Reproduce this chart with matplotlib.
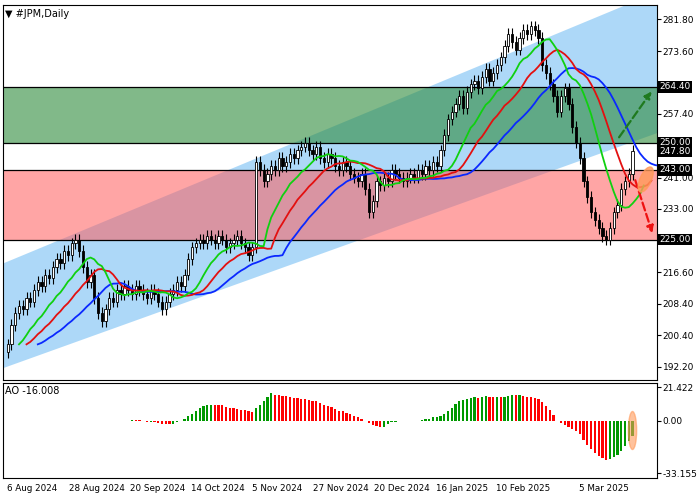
import numpy as np
import matplotlib.pyplot as plt
from matplotlib.patches import Ellipse

# daily closes
closes = [
    198, 203, 206, 208, 207, 210, 209,
    212, 214, 213, 216, 215, 218, 220, 219, 222, 221, 224, 225,
    222, 218, 214, 216, 210, 206, 204,
    207, 210, 209, 212, 211, 213, 212, 211, 213, 212, 211, 210, 212, 211, 209,
    207, 209, 211, 212, 214, 213,
    216, 220, 223, 224, 225, 224, 226, 225, 224, 226, 225, 223, 224, 225, 226, 224, 223, 221, 223,
    245, 243, 240, 242, 244, 243, 246, 244, 245, 247,
    246, 248, 249, 250, 248, 247, 249, 246, 245, 247, 246, 244, 243, 245, 244, 242, 241,
    240, 242, 238, 232, 235, 240, 239, 241, 240, 243, 242, 241, 240,
    241, 242, 241, 243, 242, 244, 243, 245, 244, 248, 252, 256,
    258, 260, 262, 259, 263, 265, 266, 264, 267, 269, 266, 268, 270,
    272, 275, 278, 276, 274, 277, 279, 278, 280, 279, 277, 270, 268,
    265, 262, 258, 262, 264, 260, 254, 250, 246,
    240, 236, 232, 230, 228, 226, 225, 228, 232, 234, 238,
    240, 242, 247.8,
]
wick = 1.5

levels = [264.40, 250.00, 243.00, 225.00]
price_ticks = [281.80, 273.60, 257.40, 241.00, 233.00, 216.60, 208.40, 200.40, 192.20]
date_labels = ["6 Aug 2024", "28 Aug 2024", "20 Sep 2024", "14 Oct 2024", "5 Nov 2024",
               "27 Nov 2024", "20 Dec 2024", "16 Jan 2025", "10 Feb 2025", "5 Mar 2025"]
date_pos = [-0.2, 16.3, 32.4, 48.7, 65.0, 81.0, 97.4, 113.7, 129.7, 151.8]

# channel corners (bar index, price)
chan_x = [-1.3, 175]
chan_lo = [192.0, 253.5]
chan_hi = [219.0, 290.0]


def smma(vals, n):
    out = np.empty(len(vals))
    out[0] = vals[0]
    for i in range(1, len(vals)):
        out[i] = (out[i - 1] * (n - 1) + vals[i]) / n
    return out


c = np.array(closes, dtype=float)
o = np.r_[c[0] - 2, c[:-1]]
hi = np.maximum(o, c) + wick
lo = np.minimum(o, c) - wick
idx = np.arange(len(c))

fig = plt.figure(figsize=(7, 5), dpi=100)
ax = fig.add_axes([0.004, 0.24, 0.934, 0.75])
ax2 = fig.add_axes([0.004, 0.044, 0.934, 0.19])
for a in (ax, ax2):
    a.set_xlim(-1.3, 172.4)
    a.yaxis.tick_right()
    a.tick_params(axis="y", labelsize=6.5, length=3, pad=1.5)
    a.tick_params(axis="x", bottom=False, labelbottom=False)

ax.set_ylim(188.8, 285.5)
ax.fill_between(chan_x, chan_lo, chan_hi, color="#9fd2f7", alpha=0.85, lw=0, zorder=1)
ax.axhspan(250, 264.4, color="#2e8b3a", alpha=0.6, lw=0, zorder=2)
ax.axhspan(225, 243, color="#ff5c5c", alpha=0.55, lw=0, zorder=2)
for lv in levels:
    ax.axhline(lv, color="black", lw=0.9, zorder=3)

for i in idx:
    ax.vlines(i, lo[i], hi[i], color="black", lw=0.8, zorder=4)
    bull = c[i] >= o[i]
    ax.bar(i, max(abs(c[i] - o[i]), 0.3), bottom=min(o[i], c[i]), width=0.6,
           color="white" if bull else "black", edgecolor="black", lw=0.6, zorder=5)

jaw = smma(c, 13)
teeth = smma(c, 8)
lips = smma(c, 5)
ax.plot(idx + 8, jaw, color="#0a28ff", lw=1.3, zorder=6)
ax.plot(idx + 5, teeth, color="#e31010", lw=1.3, zorder=6)
ax.plot(idx + 3, lips, color="#10d010", lw=1.3, zorder=6)

ax.annotate("", xy=(171.5, 263.8), xytext=(162, 250.8),
            arrowprops=dict(arrowstyle="-|>", color="#1f7a1f", lw=1.6, ls="--"), zorder=7)
ax.annotate("", xy=(171.5, 226), xytext=(166.5, 241),
            arrowprops=dict(arrowstyle="-|>", color="#ee1111", lw=1.6, ls="--"), zorder=7)
ax.add_patch(Ellipse((169.5, 240.5), 3, 7, angle=-25, color="#ff9a5a", alpha=0.8, zorder=7))

ax.set_yticks(price_ticks)
ax.set_yticklabels([f"{t:.2f}" for t in price_ticks])
for lv in levels + [247.80]:
    ax.text(1.004, lv, f"{lv:.2f}", transform=ax.get_yaxis_transform(), fontsize=6.5,
            color="white", va="center", ha="left",
            bbox=dict(facecolor="black", edgecolor="none", pad=1))
ax.text(0.003, 0.99, "▼ #JPM,Daily", transform=ax.transAxes, fontsize=7, va="top")

# Awesome oscillator (close used as median)
med = c
ao = np.convolve(med, np.ones(5) / 5, "full")[:len(c)] - np.convolve(med, np.ones(34) / 34, "full")[:len(c)]
ao_x = idx[33:]
ao_v = (ao[33:] - np.mean(ao[33:40])) * 0.8
cols = ["#009900" if k == 0 or ao_v[k] >= ao_v[k - 1] else "#ff0000" for k in range(len(ao_v))]
ax2.bar(ao_x, ao_v, width=0.6, color=cols, zorder=3)
ax2.set_ylim(-36, 24)
ax2.set_yticks([21.422, 0.0, -33.155])
ax2.set_yticklabels(["21.422", "0.00", "-33.155"])
ax2.add_patch(Ellipse((166, -6), 2.2, 24, color="#ff9a5a", alpha=0.6, zorder=4))
ax2.text(0.003, 0.97, "AO -16.008", transform=ax2.transAxes, fontsize=7, va="top")

for pos, lab in zip(date_pos, date_labels):
    ax2.text(pos, -0.06, lab, transform=ax2.get_xaxis_transform(), fontsize=6.3, va="top")

fig.savefig("out.png", dpi=100)
